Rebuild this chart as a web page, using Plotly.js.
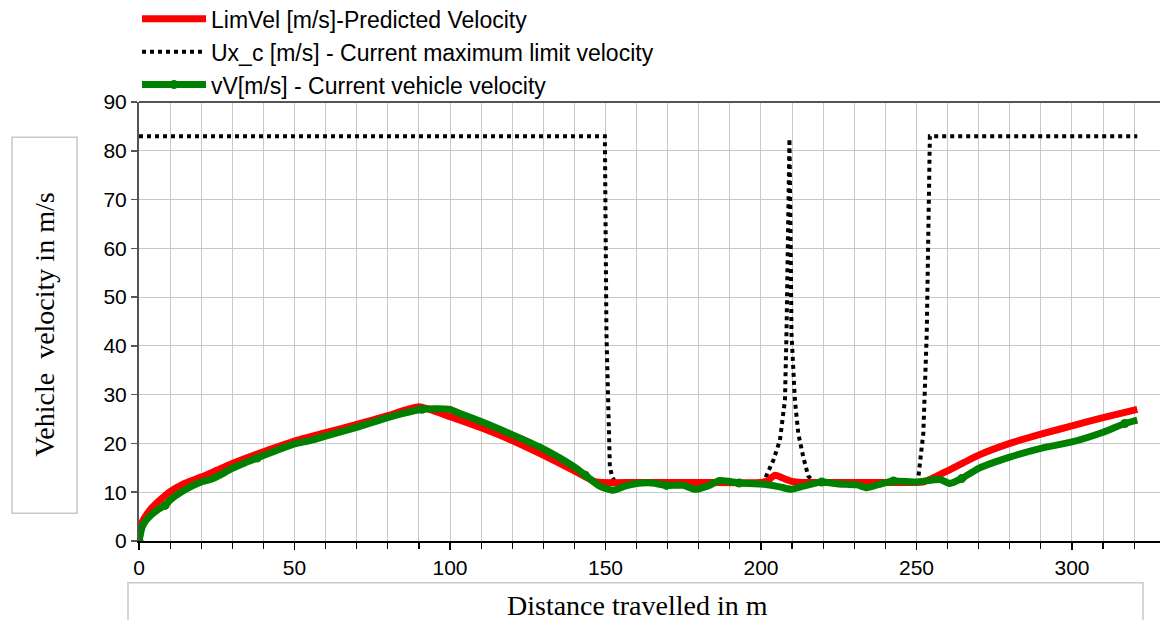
<!DOCTYPE html>
<html>
<head>
<meta charset="utf-8">
<script src="https://cdn.plot.ly/plotly-3.0.1.min.js"></script>
<style>html,body{margin:0;padding:0;background:#fff;}#chart{width:1160px;height:620px;}</style>
</head>
<body>
<div id="chart"></div>
<script>
// Predicted (limit) velocity
const limDist = [0,1,2,4,6,8,10,14,20,25,30,40,50,60,70,80,90,100,110,120,130,140,147,160,180,200,202,204.5,207,210,213,230,250,252,255,260,265,270,280,290,300,310,321];
const limVel  = [0,3.8,5.0,6.7,8.0,9.1,10.1,11.6,13.1,14.5,15.9,18.3,20.5,22.2,23.9,25.7,27.5,25.5,23.2,20.6,17.6,14.4,12.1,12.0,12.0,12.0,12.3,13.5,12.9,12.2,12.0,12.0,12.0,12.1,12.8,14.4,16.0,17.6,20.0,21.9,23.6,25.3,27.0];

// Current maximum limit velocity
const maxDist = [0,149.8,150.3,150.9,151.4,152.2,153.5,170,190,201,201.8,204,206.1,207.7,208.2,208.8,209.15,209.5,209.8,210.9,212,213.6,215.2,217,235,250,250.6,252.2,253.3,253.8,254.3,290,321];
const maxVel  = [83,83,42.6,22.1,15.2,13.0,11.8,11.8,11.8,12,13.5,16.6,20.7,28.9,42.6,63.2,82.5,63,42.6,28.9,22,17.2,13.3,12,11.8,11.8,13.1,22.1,42.6,70.9,83,83,83];

// Current vehicle velocity
const vehDist = [0,1,2,4,6,8.4,10,14,20,23,26,30,34,38,44,50,55,60,70,80,91,95,100,103,110,120,130,140,143.5,148,152.5,156,160,165,169.6,175,178.8,183,186.8,193,200,206,209.8,214,219.5,225,230.8,234,238,242.6,250,257.6,260.8,264.5,270,280,290,300,310,317,321];
const vehVel  = [0,2.8,4.0,5.4,6.4,7.3,8.4,10.2,12.1,12.6,13.5,14.9,16.0,17.0,18.5,19.9,20.6,21.5,23.3,25.3,27.0,27.1,27.0,26.2,24.5,21.8,18.9,15.2,13.5,11.3,10.4,11.2,11.8,11.9,11.4,11.4,10.6,11.3,12.4,11.9,11.7,11.1,10.6,11.3,12.1,11.7,11.5,10.9,11.6,12.3,12.1,12.6,11.8,12.8,14.9,17.2,19.0,20.3,22.3,24.1,24.8];
const vehMarkerIdx = [0,5,13,20,28,34,39,44,49,53,59];

const seriesNames = [
  'LimVel [m/s]-Predicted Velocity',
  'Ux_c [m/s] - Current maximum limit velocity',
  'vV[m/s] - Current vehicle velocity'
];
const xTitle = 'Distance travelled in m';
const yTitle = 'Vehicle  velocity in m/s';

const GREEN = '#008000';
const traces = [
  {x: maxDist, y: maxVel, mode: 'lines', name: seriesNames[1], legendrank: 2,
   line: {color: '#000', width: 4, dash: 'dot'}},
  {x: limDist, y: limVel, mode: 'lines', name: seriesNames[0], legendrank: 1,
   line: {color: '#ff0000', width: 7, shape: 'spline', smoothing: 0.5}},
  {x: vehDist, y: vehVel, mode: 'lines', showlegend: false,
   line: {color: GREEN, width: 7, shape: 'spline', smoothing: 0.6}},
  {x: vehMarkerIdx.map(i => vehDist[i]), y: vehMarkerIdx.map(i => vehVel[i]), mode: 'markers', showlegend: false,
   marker: {color: GREEN, size: 9}},
  {x: [null], y: [null], mode: 'lines+markers', name: seriesNames[2], legendrank: 3,
   line: {color: GREEN, width: 7}, marker: {color: GREEN, size: 9}}
];

const L = 139, W = 1021, B = 540.7, H = 439;
const px = v => (v - L) / W;
const py = v => (B - v) / H;

const layout = {
  width: 1160, height: 620,
  margin: {l: 139, r: 0, t: 102, b: 79, autoexpand: false},
  paper_bgcolor: '#fff', plot_bgcolor: '#fff',
  font: {family: 'Liberation Sans, Arial, sans-serif', color: '#000', size: 20},
  showlegend: true,
  legend: {xref: 'container', yref: 'paper', x: 137/1160, y: py(-3), xanchor: 'left', yanchor: 'top',
           font: {size: 23, family: 'Liberation Sans, Arial, sans-serif'}, bgcolor: 'rgba(0,0,0,0)',
           itemwidth: 64, traceorder: 'normal'},
  xaxis: {range: [0, 328.3], tick0: 0, dtick: 50, ticks: 'outside', ticklen: 7, tickwidth: 1.5, tickcolor: '#000',
          showline: true, linecolor: '#000', linewidth: 1.5, showgrid: true, gridcolor: '#c8c8c8', gridwidth: 1,
          zeroline: false, tickfont: {size: 21},
          minor: {dtick: 10, ticks: 'outside', ticklen: 6, tickwidth: 1.2, tickcolor: '#000', showgrid: true, gridcolor: '#c8c8c8', gridwidth: 1}},
  yaxis: {range: [0, 90], tick0: 0, dtick: 10, ticks: 'outside', ticklen: 6, tickwidth: 1.5, tickcolor: '#555',
          showline: true, linecolor: '#555', linewidth: 2, showgrid: true, gridcolor: '#c8c8c8', gridwidth: 1,
          zeroline: false, tickfont: {size: 21}},
  shapes: [
    {type: 'line', xref: 'paper', yref: 'paper', x0: 0, x1: 1, y0: 1, y1: 1, line: {color: '#555', width: 2}},
    {type: 'rect', xref: 'paper', yref: 'paper', x0: px(12), x1: px(77), y0: py(513), y1: py(137), line: {color: '#c8c8c8', width: 1.5}},
    {type: 'rect', xref: 'paper', yref: 'paper', x0: px(128), x1: px(1143), y0: py(640), y1: py(582.5), line: {color: '#c8c8c8', width: 1.5}}
  ],
  annotations: [
    {xref: 'paper', yref: 'paper', x: px(44.5), y: py(325), text: yTitle, textangle: -90, showarrow: false,
     xanchor: 'center', yanchor: 'middle', font: {family: 'Liberation Serif, Times New Roman, serif', size: 28, color: '#000'}},
    {xref: 'paper', yref: 'paper', x: px(637), y: py(605), text: xTitle, showarrow: false,
     xanchor: 'center', yanchor: 'middle', font: {family: 'Liberation Serif, Times New Roman, serif', size: 28, color: '#000'}}
  ]
};

Plotly.newPlot('chart', traces, layout, {displayModeBar: false, staticPlot: true});
</script>
</body>
</html>
